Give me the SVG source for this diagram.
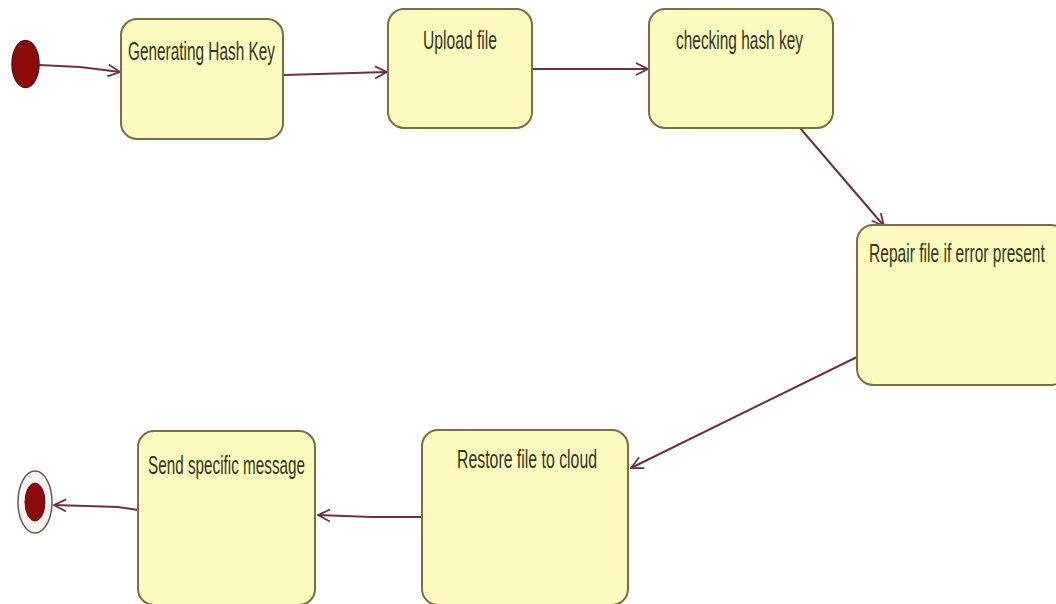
<svg xmlns="http://www.w3.org/2000/svg" width="1056" height="604" viewBox="0 0 1056 604">
<style>
.st{fill:#fdfac0;stroke:#7d6c45;stroke-width:2}
.lb{font-family:"Liberation Sans",Arial,sans-serif;font-size:25px;fill:#35341c}
.cn{fill:none;stroke:#6e3040;stroke-width:2}
</style>
<defs>
<marker id="ar" viewBox="0 0 14 14" refX="13" refY="7" markerWidth="14" markerHeight="14" markerUnits="userSpaceOnUse" orient="auto">
<path d="M1,1 L13,7 L1,13" fill="none" stroke="#6e3040" stroke-width="1.8"/>
</marker>
</defs>
<rect width="1056" height="604" fill="#ffffff"/>
<g id="connectors">
<path class="cn" d="M39,65 L80,67 L120,72" marker-end="url(#ar)"/>
<path class="cn" d="M284,75 L387,72" marker-end="url(#ar)"/>
<path class="cn" d="M533,69 L648,69" marker-end="url(#ar)"/>
<path class="cn" d="M800,128 L884,226" marker-end="url(#ar)"/>
<path class="cn" d="M857,357 L631,468" marker-end="url(#ar)"/>
<path class="cn" d="M422,517 L372,517 L318,515" marker-end="url(#ar)"/>
<path class="cn" d="M138,510 L118,507 L54,505" marker-end="url(#ar)"/>
</g>
<g id="start">
<ellipse cx="25.5" cy="64" rx="13.5" ry="23.5" fill="#8b0a0a" stroke="#5a1020" stroke-width="1.5"/>
</g>
<g id="n1">
<rect class="st" x="121" y="19" width="162" height="120" rx="16"/>
<text class="lb" x="128" y="60" textLength="147" lengthAdjust="spacingAndGlyphs">Generating Hash Key</text>
</g>
<g id="n2">
<rect class="st" x="388" y="9" width="144" height="119" rx="16"/>
<text class="lb" x="423" y="49" textLength="74" lengthAdjust="spacingAndGlyphs">Upload file</text>
</g>
<g id="n3">
<rect class="st" x="649" y="9" width="184" height="119" rx="16"/>
<text class="lb" x="676" y="49" textLength="127" lengthAdjust="spacingAndGlyphs">checking hash key</text>
</g>
<g id="n4">
<rect class="st" x="857" y="225" width="210" height="160" rx="16"/>
<text class="lb" transform="translate(869,262) scale(0.6,1)" x="0" y="0" textLength="293" lengthAdjust="spacingAndGlyphs">Repair file if error present</text>
</g>
<g id="n5">
<rect class="st" x="422" y="430" width="206" height="175" rx="16"/>
<text class="lb" x="457" y="468" textLength="140" lengthAdjust="spacingAndGlyphs">Restore file to cloud</text>
</g>
<g id="n6">
<rect class="st" x="138" y="431" width="177" height="174" rx="16"/>
<text class="lb" x="148" y="474" textLength="157" lengthAdjust="spacingAndGlyphs">Send specific message</text>
</g>
<g id="end">
<ellipse cx="35" cy="502" rx="17" ry="31" fill="#fff4f4" stroke="#6a5a5a" stroke-width="1.5"/>
<ellipse cx="35" cy="502" rx="10" ry="19" fill="#8b0a0a" stroke="#5a1020" stroke-width="1"/>
</g>
</svg>
